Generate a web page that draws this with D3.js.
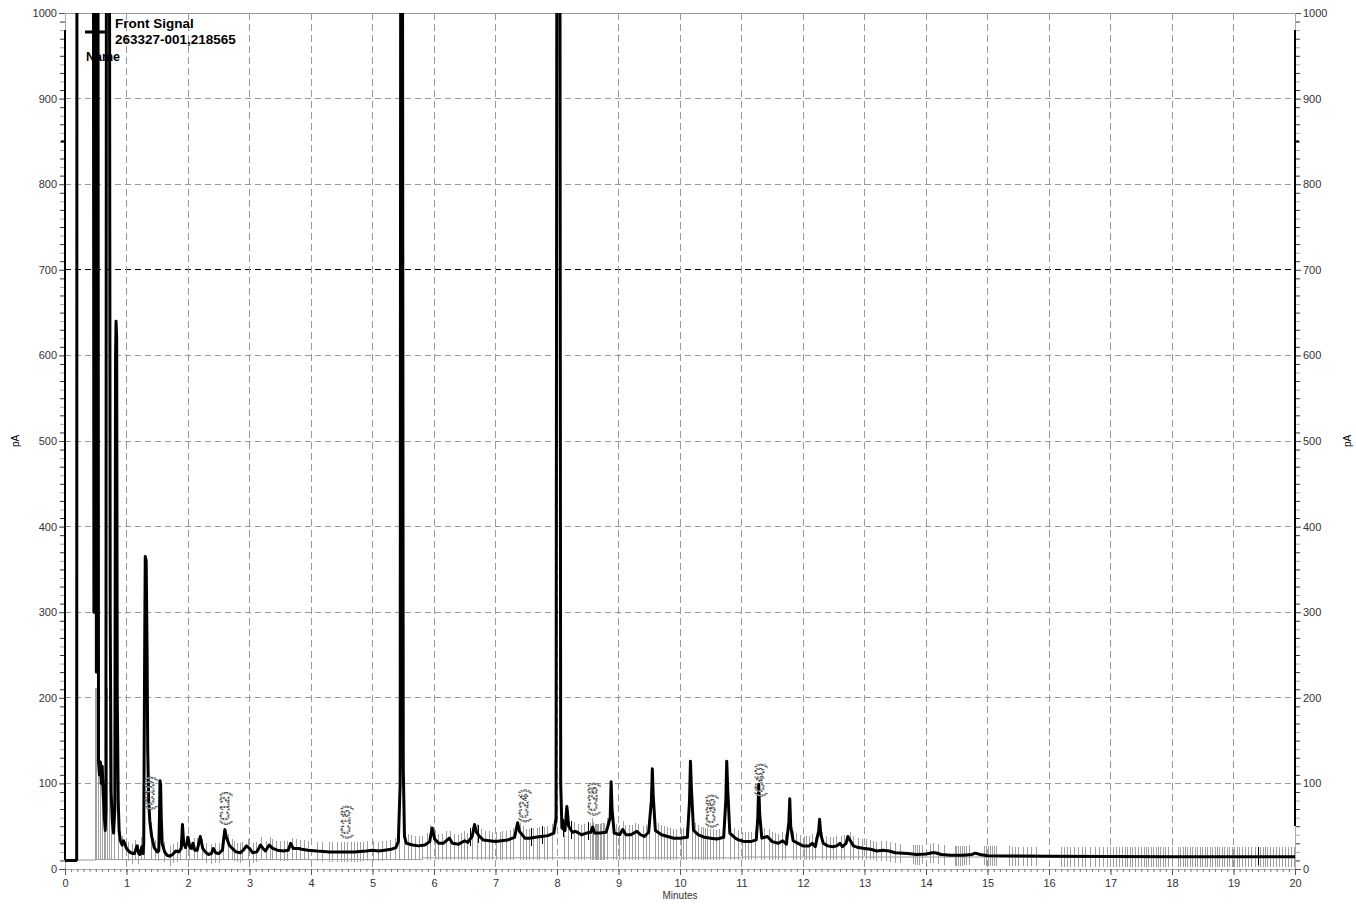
<!DOCTYPE html>
<html><head><meta charset="utf-8">
<script src="https://cdn.jsdelivr.net/npm/d3@7/dist/d3.min.js"></script>
<style>body{margin:0;background:#fff;} text{font-family:"Liberation Sans",Arial,sans-serif;}</style>
</head><body><svg id="c" width="1356" height="904"></svg>
<script>
// ---- data ----
const xTicks = [0,1,2,3,4,5,6,7,8,9,10,11,12,13,14,15,16,17,18,19,20];
const yTicks = [0,100,200,300,400,500,600,700,800,900,1000];
const legendTitle = "Front Signal";
const legendSample = "263327-001,218565";
const legendName = "Name";
const xTitle = "Minutes";
const yTitle = "pA";
// chromatogram trace [minutes, pA]
const trace = [
[0,10],[0.18,10],[0.19,11],[0.195,1300],[0.46,1300],[0.47,300],[0.475,1300],
[0.50,1300],[0.51,230],[0.52,1300],[0.535,1300],[0.545,125],[0.56,110],[0.575,125],[0.59,100],[0.605,120],[0.62,90],[0.64,60],[0.655,45],[0.665,70],
[0.675,1300],[0.72,1300],[0.735,300],[0.75,90],[0.77,55],[0.79,42],[0.81,70],[0.822,600],[0.83,640],[0.84,620],[0.85,200],[0.865,80],[0.88,45],[0.9,33],[0.93,28],[0.95,33],[0.97,30],[1.0,24],[1.05,20],[1.1,18],[1.13,18],[1.17,27],[1.2,18],[1.22,17],[1.25,26],[1.27,18],
[1.28,30],[1.295,250],[1.305,365],[1.32,360],[1.335,250],[1.345,140],[1.36,80],[1.38,55],[1.41,38],[1.45,25],[1.5,20],[1.525,21],[1.538,70],[1.545,103],[1.555,98],[1.565,60],[1.58,30],[1.62,20],[1.66,16],[1.7,15],[1.75,17],[1.8,21],[1.85,20],[1.89,24],[1.91,52],[1.93,30],[1.96,25],[1.98,30],[2.0,37],[2.03,25],[2.06,24],[2.08,30],[2.11,22],[2.15,22],[2.2,38],[2.24,24],[2.28,20],[2.33,17],[2.38,18],[2.41,24],[2.45,19],[2.5,18],[2.56,22],[2.585,38],[2.6,46],[2.62,38],[2.67,28],[2.72,24],[2.78,20],[2.85,19],[2.9,22],[2.95,27],[3.0,24],[3.05,19],[3.12,20],[3.18,28],[3.22,24],[3.26,21],[3.32,28],[3.38,24],[3.45,22],[3.55,21],[3.63,22],[3.67,30],[3.71,24],[3.8,24],[3.85,23],[3.95,22],[4.1,21],[4.3,20],[4.5,20],[4.7,20],[4.9,21],[5.0,22],[5.1,21],[5.2,22],[5.3,23],[5.38,25],[5.42,32],[5.45,100],[5.46,1300],[5.485,1300],[5.5,120],[5.52,38],[5.55,30],[5.65,28],[5.75,27],[5.85,28],[5.93,32],[5.97,48],[6.01,35],[6.08,30],[6.15,30],[6.25,36],[6.3,30],[6.4,29],[6.5,33],[6.55,31],[6.62,38],[6.66,52],[6.69,43],[6.74,38],[6.8,34],[6.9,33],[7.0,32],[7.1,33],[7.2,34],[7.31,37],[7.36,54],[7.39,44],[7.48,36],[7.55,36],[7.65,37],[7.75,38],[7.85,39],[7.95,42],[7.985,60],[8.0,1300],[8.045,1300],[8.06,100],[8.08,48],[8.13,45],[8.16,73],[8.19,50],[8.25,43],[8.3,44],[8.4,40],[8.48,42],[8.55,43],[8.58,49],[8.61,42],[8.7,42],[8.8,43],[8.865,60],[8.88,102],[8.895,70],[8.93,42],[9.02,40],[9.07,46],[9.12,40],[9.2,40],[9.3,44],[9.36,40],[9.42,38],[9.49,43],[9.535,80],[9.55,117],[9.565,85],[9.6,45],[9.7,40],[9.8,38],[9.9,36],[10.0,36],[10.12,37],[10.155,80],[10.17,126],[10.185,95],[10.22,45],[10.3,40],[10.4,37],[10.5,36],[10.6,35],[10.71,37],[10.745,80],[10.76,126],[10.775,95],[10.81,42],[10.9,36],[10.95,34],[11.05,32],[11.15,32],[11.24,34],[11.265,60],[11.28,99],[11.295,65],[11.33,36],[11.42,38],[11.5,32],[11.6,30],[11.67,33],[11.73,29],[11.77,55],[11.785,82],[11.8,50],[11.84,33],[11.92,30],[12.0,27],[12.1,27],[12.15,30],[12.2,26],[12.255,45],[12.27,58],[12.29,40],[12.33,30],[12.4,27],[12.48,26],[12.55,27],[12.6,30],[12.64,26],[12.7,30],[12.73,38],[12.77,33],[12.82,27],[12.9,25],[13.0,24],[13.1,23],[13.2,21],[13.3,22],[13.4,21],[13.5,19],[13.7,18],[13.85,17],[14.0,17.5],[14.1,19],[14.15,19],[14.25,17],[14.4,16],[14.6,16],[14.75,17],[14.8,18.5],[14.88,17],[15.0,15.5],[15.5,15.2],[16.0,15],[17.0,14.5],[18.0,14.3],[19.0,14.2],[20.0,14.2]
];
// integration baseline segments [start, end, pA]
const baselines = [[0,0.5,10.5],[0.5,5.8,11],[5.8,11,13],[11,20,14]];
// integration event marks (minutes)
const eventTimes = [0.49,0.52,0.55,0.58,0.61,0.64,0.66,0.69,0.73,0.76,0.80,0.87,0.93,
1.04,1.1,1.15,1.2,1.25,1.3,1.4,1.47,1.52,1.62,1.72,1.77,1.83,1.88,1.97,
2.03,2.1,2.16,2.24,2.3,2.38,2.45,2.52,2.58,2.66,2.72,2.76,2.8,2.85,2.88,2.99,
3.06,3.12,3.2,3.27,3.34,3.38,3.44,3.5,3.57,3.62,3.7,3.77,3.83,3.9,3.96,
4.1,4.18,4.3,4.35,4.43,4.5,4.55,4.6,4.66,4.7,4.75,4.8,4.86,4.92,
5.02,5.1,5.16,5.22,5.3,5.38,5.44,
5.52,5.58,5.63,5.7,5.76,5.82,5.9,5.95,6.02,6.08,6.14,6.2,6.27,6.33,6.4,6.45,6.5,
6.55,6.62,6.7,6.78,6.83,6.9,6.95,7.02,7.08,7.12,7.18,7.24,7.3,7.4,7.45,7.5,
7.55,7.62,7.68,7.72,7.8,7.85,7.92,
8.12,8.18,8.28,8.35,8.4,8.45,8.55,8.58,8.6,8.62,8.64,8.66,8.68,8.7,8.72,8.75,8.78,8.82,8.92,8.97,
9.02,9.08,9.12,9.18,9.22,9.28,9.33,9.4,9.45,9.5,9.6,9.65,9.7,9.74,9.8,9.85,9.9,9.95,
10.02,10.05,10.1,10.2,10.25,10.3,10.35,10.38,10.42,10.45,10.5,10.55,10.6,10.65,10.7,10.82,10.88,10.95,
11.02,11.07,11.12,11.17,11.22,11.33,11.38,11.45,11.5,11.55,11.6,11.66,11.72,11.84,11.9,11.96,
12.02,12.06,12.1,12.15,12.2,12.32,12.38,12.45,12.5,12.55,12.62,12.68,12.78,12.82,12.9,12.96,
13.04,13.1,13.15,13.2,13.28,13.35,13.42,13.5,13.58,13.8,13.83,13.86,13.9,13.95,
14.08,14.13,14.2,14.3,14.48,14.5,14.53,14.56,14.6,14.63,14.66,14.7,14.95,14.98,15.02,15.05,15.08,15.12,15.15,
15.35,15.4,15.45,15.5,15.58,15.65,15.72,15.8,
16.2,16.25,16.3,16.35,16.42,16.48,16.55,16.6,16.68,16.75,16.82,16.88,16.95,17.0,17.05,17.1,17.15,17.2,17.24,17.28,17.32,17.36,17.4,17.45,17.5,17.55,17.58,17.62,17.66,17.7,17.74,17.78,17.82,17.86,17.9,17.95,18.0,
18.1,18.14,18.18,18.22,18.26,18.3,18.34,18.38,18.42,18.46,18.5,18.54,18.58,18.62,18.66,18.7,18.74,18.78,18.82,18.86,18.9,18.94,18.98,
19.02,19.06,19.1,19.15,19.2,19.25,19.3,19.35,19.4,19.44,19.48,19.52,19.56,19.6,19.65,19.7,19.75,19.8,19.85,19.9,19.95,19.99];
const blackEvents = [6.6,6.73,7.58,7.76,8.1,8.24,8.51,19.41];
// peak annotations [label, minutes, pA at label start]
const peakLabels = [["(C10)",1.37,69],["(C12)",2.59,51],["(C16)",4.55,35],["(C24)",7.45,54],["(C28)",8.57,62],["(C36)",10.48,48],["(C40)",11.29,84]];

// ---- layout ----
const svg = d3.select("#c");
const x = d3.scaleLinear().domain([0,20]).range([65,1295]);
const y = d3.scaleLinear().domain([0,1000]).range([869,13]);
const X0 = x(0), X1 = x(20), Y0 = y(0), Y1 = y(1000);

svg.append("defs").append("clipPath").attr("id","clip")
  .append("rect").attr("x",X0).attr("y",Y1).attr("width",X1-X0).attr("height",Y0-Y1);

// grid
const g = svg.append("g");
g.selectAll(".hg").data(yTicks.filter(d=>d>0&&d<1000)).join("line")
  .attr("x1",X0).attr("x2",X1).attr("y1",d=>y(d)).attr("y2",d=>y(d))
  .attr("stroke",d=>d===700?"#000":"#9a9a9a").attr("stroke-width",1).attr("stroke-dasharray","6,4")
  .attr("shape-rendering","crispEdges");
g.selectAll(".vg").data(xTicks.filter(d=>d>0&&d<20)).join("line")
  .attr("x1",d=>x(d)).attr("x2",d=>x(d)).attr("y1",Y1).attr("y2",Y0)
  .attr("stroke","#9a9a9a").attr("stroke-width",1).attr("stroke-dasharray","7,4")
  .attr("shape-rendering","crispEdges");
g.append("line").attr("x1",X0).attr("x2",X1).attr("y1",Y1).attr("y2",Y1).attr("stroke","#999").attr("shape-rendering","crispEdges");

// x axis
const xa = svg.append("g").attr("transform",`translate(0,${Y0})`)
  .call(d3.axisBottom(x).tickValues(d3.range(0,20.001,0.1)).tickSize(3).tickFormat(""));
xa.select(".domain").attr("stroke","#aaa");
xa.selectAll(".tick line").attr("stroke","#777");
const xb = svg.append("g").attr("transform",`translate(0,${Y0})`)
  .call(d3.axisBottom(x).tickValues(xTicks).tickSize(6).tickPadding(4).tickFormat(d3.format("d")));
xb.select(".domain").remove();
xb.selectAll(".tick line").attr("stroke","#555");
xb.selectAll(".tick text").attr("font-size",11).attr("fill","#333").attr("font-family","Liberation Sans, Arial");
svg.append("text").attr("x",680).attr("y",899).attr("text-anchor","middle").attr("font-size",10).attr("fill","#333").text(xTitle);

// y axes
function yAxis(side){
  const isL = side==="L";
  const xp = isL?X0:X1;
  const minor = svg.append("g").attr("transform",`translate(${xp},0)`)
    .call((isL?d3.axisLeft(y):d3.axisRight(y)).tickValues(d3.range(0,1001,10)).tickSize(5).tickFormat(""));
  minor.select(".domain").remove();
  minor.selectAll(".tick line").attr("stroke",(d,i)=>i%2?"#333":"#aaa");
  const major = svg.append("g").attr("transform",`translate(${xp},0)`)
    .call((isL?d3.axisLeft(y):d3.axisRight(y)).tickValues(yTicks).tickSize(6).tickPadding(2).tickFormat(d3.format("d")));
  major.select(".domain").remove();
  major.selectAll(".tick line").attr("stroke","#555");
  major.selectAll(".tick text").attr("font-size",11).attr("fill","#333").attr("font-family","Liberation Sans, Arial");
  const blackBottom = isL?10:50;
  svg.append("line").attr("x1",xp).attr("x2",xp).attr("y1",Y1).attr("y2",Y0).attr("stroke","#aaa").attr("shape-rendering","crispEdges");
  svg.append("line").attr("x1",xp).attr("x2",xp).attr("y1",y(980)).attr("y2",y(blackBottom)).attr("stroke","#000").attr("stroke-width",1.5).attr("shape-rendering","crispEdges");
  svg.append("line").attr("x1",isL?xp-4:xp).attr("x2",isL?xp:xp+4).attr("y1",y(850)).attr("y2",y(850)).attr("stroke","#000").attr("stroke-width",2);
  svg.append("text").attr("transform",`translate(${isL?19:1351},${y(500)}) rotate(-90)`)
    .attr("text-anchor","middle").attr("font-size",10).attr("fill","#000").text(yTitle);
}
yAxis("L"); yAxis("R");

const plot = svg.append("g").attr("clip-path","url(#clip)");

const bis = d3.bisector(d=>d[0]).left;
function valAt(t){
  const i = Math.max(1, Math.min(trace.length-1, bis(trace,t)));
  const a = trace[i-1], b = trace[i];
  const f = (t-a[0])/(b[0]-a[0]||1);
  return a[1] + (b[1]-a[1])*Math.max(0,Math.min(1,f));
}

plot.selectAll(".bl").data(baselines).join("line")
  .attr("x1",d=>x(d[0])).attr("x2",d=>x(d[1])).attr("y1",d=>y(d[2])).attr("y2",d=>y(d[2]))
  .attr("stroke","#999").attr("stroke-width",1);

plot.selectAll(".ev").data(eventTimes).join("line")
  .attr("x1",d=>x(d)).attr("x2",d=>x(d))
  .attr("y1",d=>y(Math.min(11, valAt(d)-12)))
  .attr("y2",d=>y(Math.min(valAt(d),200)+11))
  .attr("stroke","#a0a0a0").attr("stroke-width",1).attr("shape-rendering","crispEdges");
plot.selectAll(".bev").data(blackEvents).join("line")
  .attr("x1",d=>x(d)).attr("x2",d=>x(d))
  .attr("y1",d=>y(valAt(d)-9)).attr("y2",d=>y(valAt(d)+12))
  .attr("stroke","#000").attr("stroke-width",1).attr("shape-rendering","crispEdges");

// legend
svg.append("line").attr("x1",85).attr("x2",105).attr("y1",32).attr("y2",32).attr("stroke","#000").attr("stroke-width",3);
svg.append("text").attr("x",115).attr("y",28).attr("font-size",13.5).attr("font-weight","bold").text(legendTitle);
svg.append("text").attr("x",115).attr("y",44).attr("font-size",13.5).attr("font-weight","bold").text(legendSample);
svg.append("text").attr("x",86).attr("y",61).attr("font-size",12.5).attr("font-weight","bold").text(legendName);

// peak labels
svg.selectAll(".pl").data(peakLabels).join("text")
  .attr("transform",d=>`translate(${x(d[1])+5},${y(d[2])}) rotate(-90)`)
  .attr("font-size",13.5).attr("fill","#fff").attr("stroke","#333").attr("stroke-width",0.8)
  .attr("stroke-dasharray","2,1").text(d=>d[0]);

// trace
plot.append("path").datum(trace)
  .attr("d",d3.line().x(d=>x(d[0])).y(d=>y(d[1])))
  .attr("fill","none").attr("stroke","#000").attr("stroke-width",3).attr("stroke-linejoin","round");
</script></body></html>
